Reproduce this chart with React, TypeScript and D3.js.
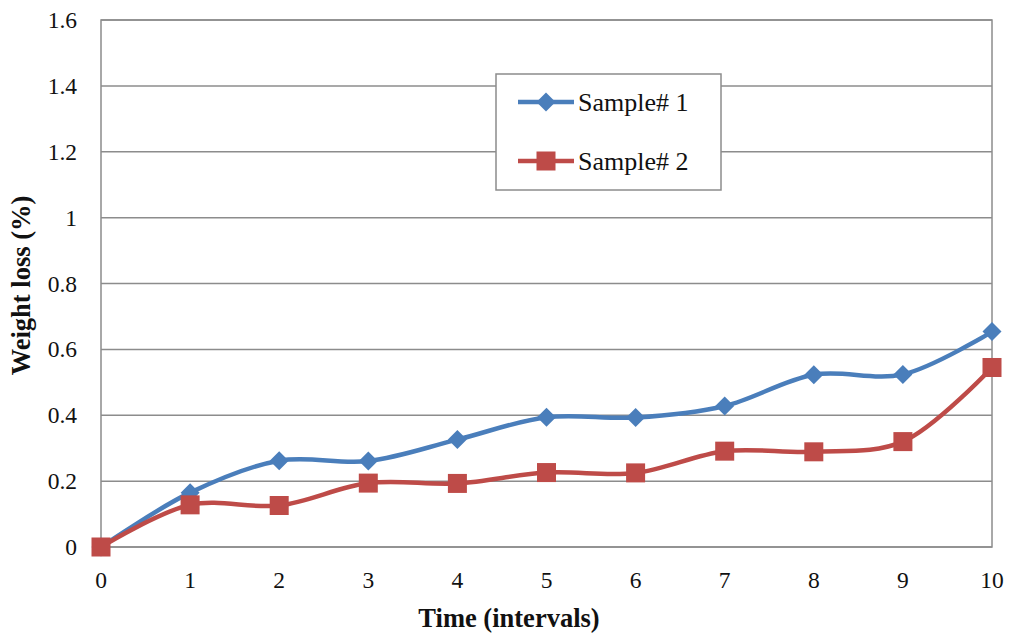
import React from "react";
import * as d3 from "d3";

const times = [0, 1, 2, 3, 4, 5, 6, 7, 8, 9, 10];
const sample1 = [0, 0.165, 0.262, 0.261, 0.326, 0.394, 0.393, 0.428, 0.523, 0.524, 0.654];
const sample2 = [0, 0.128, 0.126, 0.194, 0.193, 0.226, 0.225, 0.291, 0.289, 0.32, 0.545];
const yTicks = [0, 0.2, 0.4, 0.6, 0.8, 1, 1.2, 1.4, 1.6];
const yTickLabels = ["0", "0.2", "0.4", "0.6", "0.8", "1", "1.2", "1.4", "1.6"];
const seriesNames = ["Sample# 1", "Sample# 2"];
const seriesColors = ["#4a7ebb", "#be4b48"];

const W = 1012;
const H = 636;
const left = 101;
const right = 992;
const top = 20;
const bottom = 547;
const font = "'Liberation Serif', 'Times New Roman', serif";

export default function App() {
  const x = d3.scaleLinear().domain([0, 10]).range([left, right]);
  const y = d3.scaleLinear().domain([0, 1.6]).range([bottom, top]);
  const line = d3
    .line<number>()
    .x((_, i) => x(times[i]))
    .y((d) => y(d))
    .curve(d3.curveCatmullRom.alpha(0.5));

  const diamond = (cx: number, cy: number, r: number) =>
    `M${cx},${cy - r}L${cx + r},${cy}L${cx},${cy + r}L${cx - r},${cy}Z`;
  const sq = 9.5;
  const dr = 9.5;

  const legendX = 496;
  const legendY = 74;
  const legendW = 225;
  const legendH = 116;
  const legendRows = [102, 161];

  return (
    <svg
      width={W}
      height={H}
      style={{ position: "absolute", left: 0, top: 0, background: "#fff" }}
      fontFamily={font}
    >
      <rect x={0} y={0} width={W} height={H} fill="#fff" />
      {/* gridlines */}
      {yTicks.map((t) => (
        <line
          key={t}
          x1={left}
          x2={right}
          y1={y(t)}
          y2={y(t)}
          stroke="#8c8c8c"
          strokeWidth={1.5}
        />
      ))}
      {/* plot frame */}
      <rect
        x={left}
        y={top}
        width={right - left}
        height={bottom - top}
        fill="none"
        stroke="#8c8c8c"
        strokeWidth={1.5}
      />
      {/* y tick labels */}
      {yTicks.map((t, i) => (
        <text
          key={t}
          x={77}
          y={y(t)}
          textAnchor="end"
          dominantBaseline="central"
          fontSize={23.5}
          fill="#111"
        >
          {yTickLabels[i]}
        </text>
      ))}
      {/* x tick labels */}
      {times.map((t) => (
        <text
          key={t}
          x={x(t)}
          y={580}
          textAnchor="middle"
          dominantBaseline="central"
          fontSize={23.5}
          fill="#111"
        >
          {t}
        </text>
      ))}
      {/* axis titles */}
      <text
        x={509}
        y={627}
        textAnchor="middle"
        fontSize={26.5}
        fontWeight="bold"
        fill="#111"
      >
        Time (intervals)
      </text>
      <text
        transform={`translate(30,${(top + bottom) / 2 + 2}) rotate(-90)`}
        textAnchor="middle"
        fontSize={26.5}
        fontWeight="bold"
        fill="#111"
      >
        Weight loss (%)
      </text>
      {/* series lines */}
      <path d={line(sample1) ?? ""} fill="none" stroke={seriesColors[0]} strokeWidth={4.5} />
      <path d={line(sample2) ?? ""} fill="none" stroke={seriesColors[1]} strokeWidth={4.5} />
      {/* markers */}
      {sample1.map((v, i) => (
        <path key={`d${i}`} d={diamond(x(times[i]), y(v), dr)} fill={seriesColors[0]} />
      ))}
      {sample2.map((v, i) => (
        <rect
          key={`s${i}`}
          x={x(times[i]) - sq}
          y={y(v) - sq}
          width={sq * 2}
          height={sq * 2}
          fill={seriesColors[1]}
        />
      ))}
      {/* legend */}
      <rect
        x={legendX}
        y={legendY}
        width={legendW}
        height={legendH}
        fill="#fff"
        stroke="#8c8c8c"
        strokeWidth={1.5}
      />
      {seriesNames.map((name, i) => (
        <g key={name}>
          <line
            x1={518}
            x2={574}
            y1={legendRows[i]}
            y2={legendRows[i]}
            stroke={seriesColors[i]}
            strokeWidth={4.5}
          />
          {i === 0 ? (
            <path d={diamond(546, legendRows[i], dr)} fill={seriesColors[i]} />
          ) : (
            <rect
              x={546 - sq}
              y={legendRows[i] - sq}
              width={sq * 2}
              height={sq * 2}
              fill={seriesColors[i]}
            />
          )}
          <text
            x={578}
            y={legendRows[i]}
            dominantBaseline="central"
            fontSize={26}
            fill="#111"
          >
            {name}
          </text>
        </g>
      ))}
    </svg>
  );
}
